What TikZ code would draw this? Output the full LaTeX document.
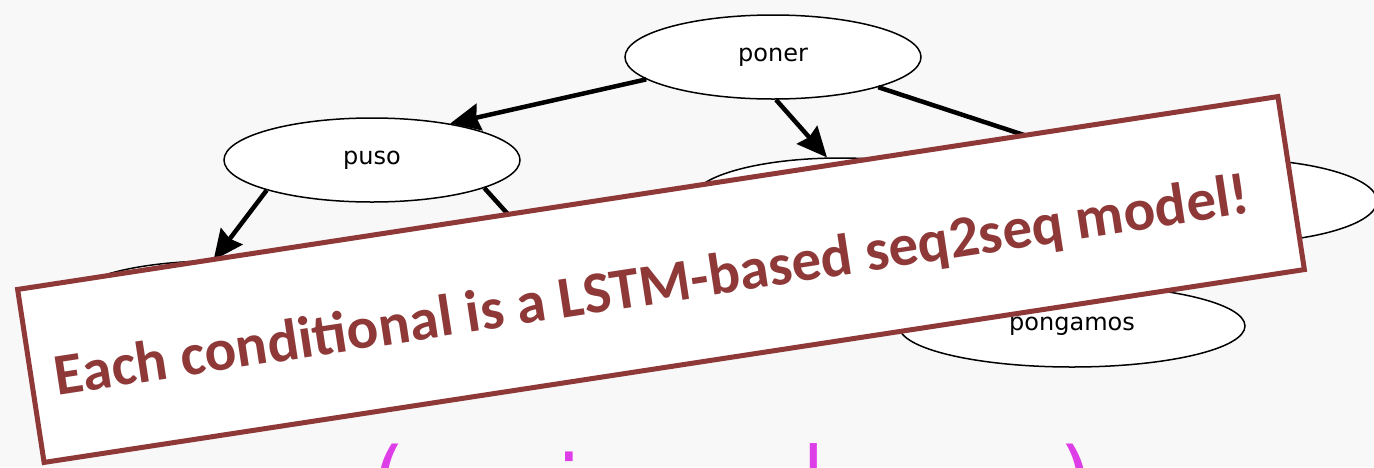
\documentclass[tikz,border=0pt]{standalone}
\usepackage{fontspec}
\setmainfont{DejaVu Sans}
\newfontfamily\bannerfont{Carlito}
\usetikzlibrary{shapes.geometric,arrows.meta}
\definecolor{bgcol}{RGB}{248,248,248}
\definecolor{bannerred}{RGB}{142,56,56}
\definecolor{formulapink}{RGB}{222,62,232}
\tikzset{
  state/.style={ellipse, draw=black, line width=1.5pt, fill=white,
    minimum width=296pt, minimum height=84pt, inner sep=0pt,
    font=\fontsize{24}{28}\selectfont},
  edge/.style={draw=black, line width=4.5pt,
    -{Stealth[length=30pt,width=27pt,inset=3pt]}},
  bannerbox/.style={draw=bannerred, line width=5pt, fill=white,
    minimum width=1275pt, minimum height=175pt, inner sep=0pt, rotate=8.7},
  bannertext/.style={text=bannerred, inner sep=0pt, rotate=8.7, anchor=base,
    font=\bannerfont\bfseries\fontsize{59}{70}\selectfont},
  formulatext/.style={text=formulapink, inner sep=0pt, anchor=base west,
    font=\fontsize{85}{100}\selectfont}
}
\newcommand{\upsym}[1]{\raisebox{8pt}{#1}}
\begin{document}
\begin{tikzpicture}[x=1pt,y=-1pt]
  \path[use as bounding box] (0,0) rectangle (1374,467);
  \clip (0,0) rectangle (1374,467);
  \fill[bgcol] (0,0) rectangle (1374,467);

  % tree of verb forms
  \node[state] (poner) at (773,57) {poner};
  \node[state] (puso) at (372,160) {puso};
  \node[state] (ll) at (215,303) {};
  \node[state] (mid) at (840,200) {};
  \node[state, minimum width=290pt] (right) at (1232,201) {};
  \node[state, minimum width=346pt, minimum height=82pt] (pong) at (1072,326) {pongamos};
  \coordinate (hidden) at (560,272);

  \draw[edge] (poner.190) -- (puso.25);
  \draw[edge] (poner.-86) -- (mid.107);
  \draw[edge] (poner.-16) -- (right.163);
  \draw[edge] (puso.196) -- (ll.92);
  \draw[edge] (puso.-14) -- (hidden);

  % tilted banner on top
  \node[bannerbox] (banner) at (661,279.5) {};
  \node[bannertext] (msg) at ([shift={(-6.3,24.7)}]banner.center)
    {Each conditional is a LSTM-based seq2seq model!};

  % conditional probability below
  \node[formulatext] (formula) at (318,516)
    {p\upsym{(}pusieron \upsym{|} puso\upsym{)}};
\end{tikzpicture}
\end{document}
